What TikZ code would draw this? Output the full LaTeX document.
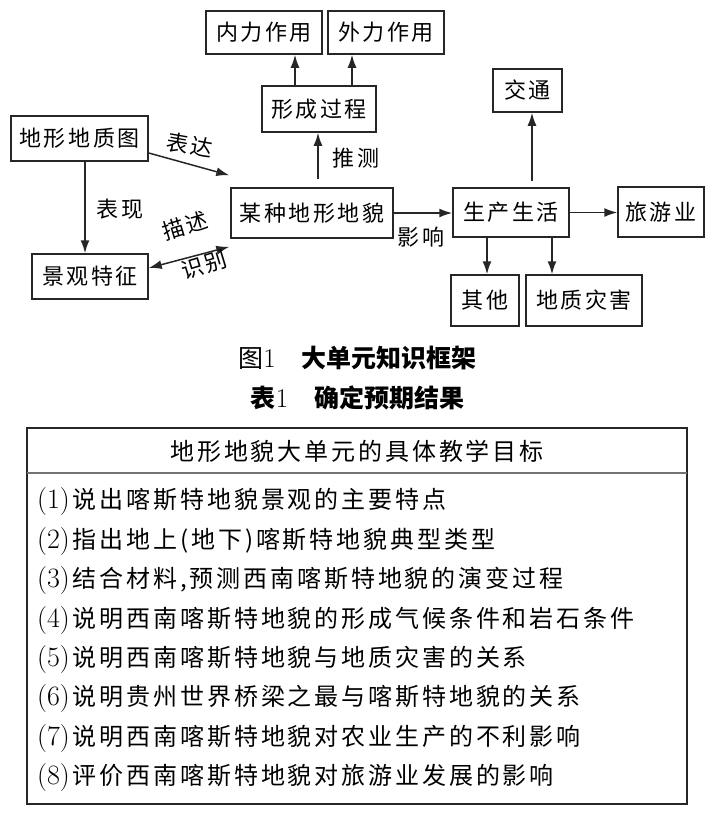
\documentclass[tikz,border=0pt]{standalone}
\usepackage{fontspec}
\usetikzlibrary{arrows.meta}
\newfontfamily\cjk{Noto Sans CJK SC}[LetterSpace=12]
\newfontfamily\cjkhei{Noto Sans CJK SC}
\newcommand{\boxfont}{\cjk\fontsize{22}{26}\selectfont}
\newcommand{\tabfont}{\cjk\fontsize{24}{28}\selectfont}
\newcommand{\capfont}{\cjkhei\fontsize{25}{29}\selectfont}
\newcommand{\goalnum}[1]{{\rmfamily\fontsize{28}{30}\selectfont(#1)}\hspace{3pt}}

\begin{document}
\begin{tikzpicture}[x=1pt,y=1pt,
  box/.style={draw=black!85,line width=1.5pt,inner sep=0pt,font=\boxfont},
  lbl/.style={inner sep=0pt,font=\boxfont},
  arr/.style={draw=black!85,line width=1.5pt,-{Latex[length=13pt,width=9pt]}},
  goal/.style={anchor=west,inner sep=0pt,font=\tabfont}]
  \useasboundingbox (0,0) rectangle (715,-820);
  % upper framework
  \node[box,minimum width=116pt,minimum height=43pt] (inner)   at (264,-32.5)   {内力作用};
  \node[box,minimum width=116pt,minimum height=43pt] (outer)   at (386,-32.5)   {外力作用};
  \node[box,minimum width=114pt,minimum height=46pt] (proc)    at (319,-109)    {形成过程};
  \node[box,minimum width=137pt,minimum height=45pt] (geo)     at (79.5,-138.5) {地形地质图};
  \node[box,minimum width=162pt,minimum height=50pt] (body)    at (312,-213)    {某种地形地貌};
  \node[box,minimum width=116pt,minimum height=45pt] (scene)   at (90,-276.5)   {景观特征};
  \node[box,minimum width=116pt,minimum height=49pt] (life)    at (511,-212.5)  {生产生活};
  \node[box,minimum width=69pt,minimum height=43pt]  (traffic) at (527.5,-90.5)  {交通};
  \node[box,minimum width=86pt,minimum height=50pt]  (tour)    at (661,-212)    {旅游业};
  \node[box,minimum width=68pt,minimum height=51pt]  (other)   at (485,-300.5)  {其他};
  \node[box,minimum width=116pt,minimum height=51pt] (hazard)  at (584,-300.5)  {地质灾害};

  \draw[arr] ([yshift=-14.5pt]geo.east) -- ([shift={(-1pt,12pt)}]body.north west);
  \draw[arr] ([xshift=5.5pt]geo.south) -- ([xshift=5.5pt]geo.south |- scene.north);
  \draw[arr,{Latex[length=13pt,width=9pt]}-{Latex[length=13pt,width=9pt]}]
    ([yshift=8.5pt]scene.east) -- ([shift={(-1pt,-8pt)}]body.south west);
  \draw[arr] ([shift={(6pt,8pt)}]body.north) -- ([xshift=6pt]body.north |- proc.south);
  \draw[arr] ([xshift=-24pt]proc.north) -- ([xshift=-24pt]proc.north |- inner.south);
  \draw[arr] ([xshift=33pt]proc.north) -- ([xshift=33pt]proc.north |- outer.south);
  \draw[arr] (body.east) -- (body.east -| life.west);
  \draw[arr] (life.east) -- (life.east -| tour.west);
  \draw[arr] ([shift={(21pt,6pt)}]life.north) -- ([xshift=21pt]life.north |- traffic.south);
  \draw[arr] ([xshift=-24pt]life.south) -- ([xshift=-24pt]life.south |- other.north);
  \draw[arr] ([xshift=41pt]life.south) -- ([xshift=41pt]life.south |- hazard.north);

  \node[lbl,rotate=-10] (express)  at (190,-145) {表达};
  \node[lbl]            (show)     at (120,-209) {表现};
  \node[lbl,rotate=17]  (describe) at (185,-226) {描述};
  \node[lbl,rotate=17]  (identify) at (204,-265) {识别};
  \node[lbl]            (infer)    at (356,-158) {推测};
  \node[lbl]            (affect)   at (421,-237) {影响};

  % captions
  \node[inner sep=0pt,font=\capfont] (fig1) at (357.5,-358)
    {图{\rmfamily\fontsize{27}{29}\selectfont 1}\hspace{26pt}{\bfseries 大单元知识框架}};
  \node[inner sep=0pt,font=\capfont] (tab1) at (357.5,-398)
    {{\bfseries 表}{\rmfamily\fontsize{27}{29}\selectfont 1}\hspace{26pt}{\bfseries 确定预期结果}};

  % table of goals
  \draw[line width=2.4pt,black!85] (27,-428) rectangle (687,-804);
  \draw[line width=1.2pt,black!55] (27,-473) -- (687,-473);
  \node[inner sep=0pt,font=\tabfont] (head) at (357,-451) {地形地貌大单元的具体教学目标};
  \foreach \txt [count=\i] in {{说出喀斯特地貌景观的主要特点},
      {指出地上(地下)喀斯特地貌典型类型},
      {结合材料,预测西南喀斯特地貌的演变过程},
      {说明西南喀斯特地貌的形成气候条件和岩石条件},
      {说明西南喀斯特地貌与地质灾害的关系},
      {说明贵州世界桥梁之最与喀斯特地貌的关系},
      {说明西南喀斯特地貌对农业生产的不利影响},
      {评价西南喀斯特地貌对旅游业发展的影响}}
    \node[goal] (goal\i) at (37,{-502-39.4*(\i-1)}) {\goalnum{\i}\txt};
\end{tikzpicture}
\end{document}
